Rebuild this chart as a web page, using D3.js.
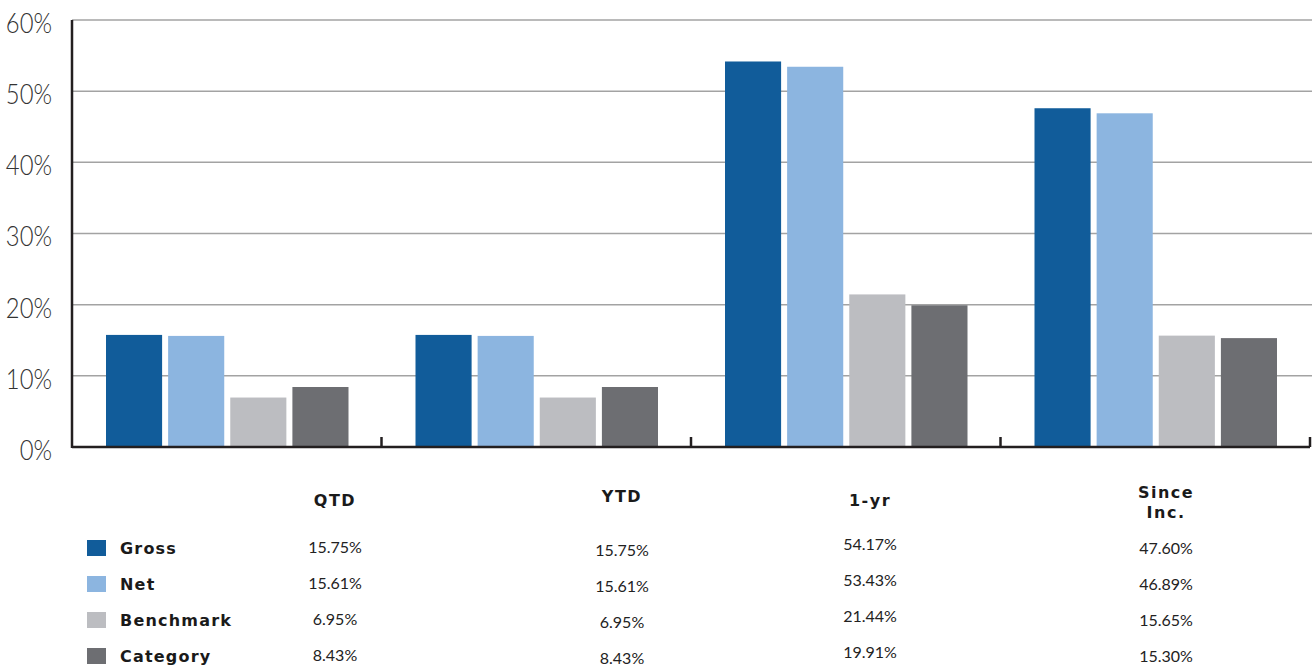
<!DOCTYPE html>
<html><head><meta charset="utf-8">
<script src="https://cdn.jsdelivr.net/npm/d3@7"></script>
<style>
html,body{margin:0;padding:0;background:#fff;}
svg{display:block;}
</style></head>
<body>
<svg id="chart" width="1312" height="667"></svg>
<script>
const categories = ["QTD", "YTD", "1-yr", "Since Inc."];
const seriesNames = ["Gross", "Net", "Benchmark", "Category"];
const gross = [15.75, 15.75, 54.17, 47.60];
const net = [15.61, 15.61, 53.43, 46.89];
const benchmark = [6.95, 6.95, 21.44, 15.65];
const category = [8.43, 8.43, 19.91, 15.30];
const yTicks = [0, 10, 20, 30, 40, 50, 60];
const colors = ["#115c9a", "#8cb5e0", "#bcbdc1", "#6d6e72"];

const seriesValues = [gross, net, benchmark, category];
const data = categories.map((c, i) => ({cat: c, vals: seriesNames.map((s, j) => ({s, v: seriesValues[j][i]}))}));

const svg = d3.select("#chart");
const mLeft = 72, mRight = 1310, mTop = 20, mBottom = 447;

const y = d3.scaleLinear().domain([0, 60]).range([mBottom, mTop]);
const x0 = d3.scaleBand().domain(categories).range([mLeft, mRight]).padding(0);
const x1 = d3.scaleBand().domain(seriesNames).range([34, x0.bandwidth() - 33]).paddingInner(0.097).paddingOuter(0);
const color = d3.scaleOrdinal().domain(seriesNames).range(colors);

// gridlines
svg.append("g").selectAll("line").data(yTicks.filter(t => t > 0)).join("line")
  .attr("x1", mLeft).attr("x2", 1312)
  .attr("y1", d => y(d)).attr("y2", d => y(d))
  .attr("stroke", "#a3a3a3").attr("stroke-width", 1.5);

// y labels
svg.append("g").selectAll("text").data(yTicks).join("text")
  .attr("transform", d => `translate(52,${y(d) + 6}) scale(0.85,1)`)
  .attr("text-anchor", "end").attr("dominant-baseline", "middle")
  .attr("font-family", "Lato").attr("font-weight", 300).attr("font-size", 28)
  .attr("fill", "#333")
  .text(d => d + "%");

// bars
const groups = svg.append("g").selectAll("g").data(data).join("g")
  .attr("transform", d => `translate(${x0(d.cat)},0)`);
groups.selectAll("rect").data(d => d.vals).join("rect")
  .attr("x", d => x1(d.s)).attr("width", x1.bandwidth())
  .attr("y", d => y(d.v)).attr("height", d => y(0) - y(d.v))
  .attr("fill", d => color(d.s));

// axes
const axisColor = "#231f20";
svg.append("line").attr("x1", mLeft).attr("x2", mLeft).attr("y1", mTop).attr("y2", mBottom + 1)
  .attr("stroke", axisColor).attr("stroke-width", 2.5);
svg.append("line").attr("x1", mLeft).attr("x2", mRight).attr("y1", mBottom).attr("y2", mBottom)
  .attr("stroke", axisColor).attr("stroke-width", 2.5);
const bounds = categories.map(c => x0(c) + x0.bandwidth());
svg.append("g").selectAll("line").data(bounds).join("line")
  .attr("x1", d => d).attr("x2", d => d).attr("y1", mBottom - 10).attr("y2", mBottom)
  .attr("stroke", axisColor).attr("stroke-width", 2.5);

// table
const colX = [335, 622, 870, 1166];
const headerY = [501, 497, 501, 503];
const colDy = [1, 4, -2, 2];
const rowY = [548, 584, 620, 656];

const hdr = svg.append("g").attr("font-family", "DejaVu Sans").attr("font-weight", "bold")
  .attr("font-size", 16).attr("letter-spacing", 1.5).attr("fill", "#1a1a1a");
categories.forEach((c, i) => {
  const lines = c === "Since Inc." ? ["Since", "Inc."] : [c];
  lines.forEach((ln, k) => {
    hdr.append("text").attr("x", colX[i]).attr("y", headerY[i] + (k - (lines.length - 1) / 2) * 20)
      .attr("text-anchor", "middle").attr("dominant-baseline", "middle").text(ln);
  });
});

// legend
const leg = svg.append("g");
seriesNames.forEach((s, j) => {
  leg.append("rect").attr("x", 87).attr("y", rowY[j] - 8).attr("width", 19).attr("height", 16).attr("fill", color(s));
  leg.append("text").attr("x", 120).attr("y", rowY[j] + 1).attr("dominant-baseline", "middle")
    .attr("font-family", "DejaVu Sans").attr("font-weight", "bold").attr("font-size", 16)
    .attr("letter-spacing", 1.2).attr("fill", "#1a1a1a").text(s);
  categories.forEach((c, i) => {
    leg.append("text").attr("x", colX[i]).attr("y", rowY[j] + colDy[i])
      .attr("text-anchor", "middle").attr("dominant-baseline", "middle")
      .attr("font-family", "Lato").attr("font-weight", 400).attr("font-size", 16)
      .attr("fill", "#222").text(seriesValues[j][i].toFixed(2) + "%");
  });
});
</script>
</body></html>
